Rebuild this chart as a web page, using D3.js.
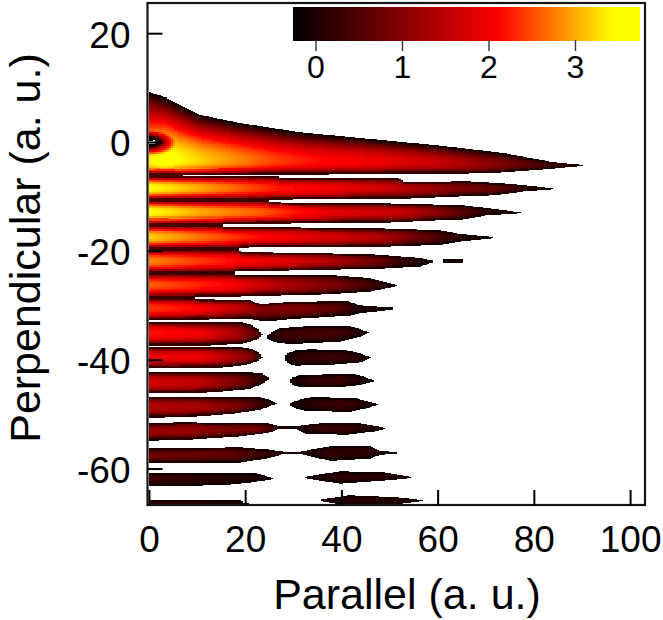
<!DOCTYPE html>
<html><head><meta charset="utf-8">
<script src="https://cdn.jsdelivr.net/npm/d3@7"></script>
<style>html,body{margin:0;padding:0;background:#fff}svg{display:block}text{font-family:"Liberation Sans",Arial,sans-serif;fill:#000}</style>
</head><body><svg id="c" width="663" height="620"></svg>
<script>
// Axis ticks and labels
const xTicks=[0,20,40,60,80,100];
const yTicks=[20,0,-20,-40,-60];
const colorTicks=[0,1,2,3];
const xTitle="Parallel (a. u.)";
const yTitle="Perpendicular (a. u.)";
// Colour map: value stops and colours
const colorStops=[-0.26,2.11,3.44,3.74];
const colorValues=["#000000","#ff0000","#ffff00","#ffff00"];

// Lobes: [parallel, perpendicular] outline points; peaks are [parallel, log value]
const b0Top=[[0,9.2],[3.3,8.3],[6.4,6.8],[10.6,5],[18.9,3.5],[31.4,1.8],[48,.4],[59.9,-.6],[73.6,-2],[84,-3.7],[90.2,-4.2]];
const b0Ridge=[[0,-3.3],[48,-3.4],[90.2,-4.25]];
const b0Bot=[[0,-6.1],[66,-5.7],[73.6,-5.5],[84,-4.8],[90.2,-4.3]];
const b0Peak=[[0,3.4],[3.3,3.6],[10.6,3.2],[18.9,2.8],[27.2,2.4],[35.6,2.15],[48,1.95],[59.9,1.6],[73.6,.9],[84,.3],[90.2,-.1]];
const b1Top=[[0,-6.3],[27,-6.3],[27.3,-6.6],[52,-6.6],[53,-7.4],[66,-7.2],[73.6,-7.6],[77.8,-7.9],[83.8,-8.5]];
const b1Ridge=[[0,-8.5],[83.8,-8.55]];
const b1Bot=[[0,-10.7],[25,-10.7],[25.2,-10.5],[54,-10.3],[64.7,-9.9],[72,-9.7],[77.8,-9],[83.8,-8.6]];
const b1Peak=[[0,3.5],[10.6,3],[18.9,2.6],[27.2,2.2],[37.6,2],[48,1.7],[54,1.4],[65.5,.9],[73,.6],[78,.2],[83.8,-.1]];
const b2Top=[[0,-10.7],[25,-10.7],[25.2,-11.1],[46,-11.2],[55,-11.4],[65,-11.6],[70,-12.1],[73.6,-12.5],[77,-12.9]];
const b2Ridge=[[0,-12.9],[77,-12.95]];
const b2Bot=[[0,-15.2],[15.3,-15.2],[15.5,-15],[50,-14.7],[60,-14.3],[65,-14.2],[70,-13.4],[77,-13]];
const b2Peak=[[0,3.5],[10.6,3],[23,2.6],[29,2.3],[37.6,1.9],[52,1.6],[60.5,1],[66.8,.4],[73,0],[77,-.1]];
const b3Top=[[0,-15.2],[15.3,-15.2],[15.5,-15.6],[46,-15.8],[53,-16],[60.5,-16.2],[64.7,-16.9],[71.3,-17.4]];
const b3Ridge=[[0,-17.5],[71.3,-17.5]];
const b3Bot=[[0,-19.7],[18.7,-19.7],[19,-19.3],[51,-19.1],[60.5,-18.8],[64.7,-18.2],[71.3,-17.6]];
const b3Peak=[[0,3.2],[10.6,2.7],[23,2.15],[35.6,1.8],[48,1.4],[54,.9],[60.5,.4],[66.8,0],[71.3,-.1]];
const b4Top=[[0,-19.7],[18.7,-19.7],[19,-20.2],[46,-20.6],[52,-21],[56.3,-21.3],[59,-21.8]];
const b4Ridge=[[0,-21.9],[59,-21.9]];
const b4Bot=[[0,-24],[17.5,-24],[18,-23.7],[48,-23.2],[56.3,-22.8],[59,-22]];
const b4Peak=[[0,2.8],[14.8,2.25],[29.3,1.8],[37.6,1.4],[48,.7],[52,.3],[59,-.1]];
const b4bTop=[[61.1,-21.5],[65,-21.5]];
const b4bRidge=[[61.1,-21.8],[65,-21.8]];
const b4bBot=[[61.1,-22.1],[65,-22.1]];
const b4bPeak=[[61.1,-.1],[63,.05],[65,-.1]];
const b5Top=[[0,-24],[17.5,-24],[18,-24.4],[37,-24.4],[46,-25],[51.4,-26.2]];
const b5Ridge=[[0,-26.3],[51.4,-26.3]];
const b5Bot=[[0,-28.6],[9.5,-28.6],[9.8,-28.3],[19,-28.3],[37,-27.9],[46,-27.4],[51.4,-26.4]];
const b5Peak=[[0,2.6],[16.8,2.1],[27.2,1.4],[39.7,.8],[48,.2],[51.4,-.1]];
const b6Top=[[0,-28.6],[9.5,-28.6],[9.8,-28.9],[21,-29],[23,-29.8],[29,-29.4],[41,-29.2],[43.9,-30],[50.5,-30.4]];
const b6Ridge=[[0,-30.5],[50.5,-30.55]];
const b6Bot=[[0,-32.7],[21,-32.4],[24,-32.9],[30.4,-32.4],[42,-31.8],[43.9,-31.4],[50.5,-30.7]];
const b6Peak=[[0,2.4],[10.6,2.1],[18.9,1.5],[24,.9],[31.4,.9],[39.7,.5],[43.9,0],[50.5,-.1]];
const b7Top=[[0,-33],[18.9,-33],[21,-33.5],[22.6,-34.3],[23.5,-35.3]];
const b7Ridge=[[0,-35.1],[23.5,-35.35]];
const b7Bot=[[0,-37.3],[12.7,-37.3],[19.9,-36.9],[22.4,-36.2],[23.5,-35.4]];
const b7Peak=[[0,2.2],[10.6,2],[18.9,1.25],[23.5,.3]];
const b7bTop=[[24.5,-35.7],[25.6,-34.9],[27.2,-34.2],[33.5,-33.8],[41.6,-33.8],[44,-34.4],[45.3,-34.9]];
const b7bRidge=[[24.5,-35.8],[30,-35.3],[45.3,-35]];
const b7bBot=[[24.5,-35.9],[25.6,-36.5],[27.2,-36.9],[30.4,-37],[39.7,-36.6],[43.9,-35.7],[45.3,-35.1]];
const b7bPeak=[[24.5,-.1],[28.1,.3],[37.6,.4],[41.6,.2],[45.3,-.1]];
const b8Top=[[0,-37.7],[18.9,-37.7],[21.5,-38],[22.7,-38.6],[23.3,-39.3]];
const b8Ridge=[[0,-39.5],[23.3,-39.5]];
const b8Bot=[[0,-41.5],[14.8,-41.4],[19.9,-40.9],[22.3,-40.3],[23.3,-39.7]];
const b8Peak=[[0,1.9],[10.6,2],[16.8,1.4],[21,1],[23.3,.1]];
const b8bTop=[[28.3,-39.5],[28.8,-38.8],[30.4,-38.3],[33,-38.1],[40.7,-38.2],[43.9,-38.8],[45.9,-39.5]];
const b8bRidge=[[28.3,-39.7],[45.9,-39.6]];
const b8bBot=[[28.3,-39.9],[28.8,-40.5],[30.4,-41],[38.6,-40.8],[43.9,-40.4],[45.9,-39.7]];
const b8bPeak=[[28.3,-.1],[31.4,.2],[37.6,.3],[41.6,.2],[45.9,-.1]];
const b9Top=[[0,-42.3],[20.8,-42.3],[23.5,-42.5],[24.7,-43.2]];
const b9Ridge=[[0,-44.2],[20,-44.2],[24.7,-43.4]];
const b9Bot=[[0,-46.1],[8.5,-46.1],[14.8,-45.8],[20.8,-45.3],[23.5,-44.4],[24.7,-43.6]];
const b9Peak=[[0,1.7],[10.6,1.5],[18.9,.85],[24.7,0]];
const b9bTop=[[29.3,-43.8],[30,-43.2],[31.4,-42.8],[42.8,-42.6],[44.9,-43.2],[46.6,-43.8]];
const b9bRidge=[[29.3,-43.9],[46.6,-43.9]];
const b9bBot=[[29.3,-44],[30,-44.6],[31.4,-45],[38.6,-45],[42.8,-44.7],[46.6,-44]];
const b9bPeak=[[29.3,-.1],[33.5,.2],[39.7,.3],[42.8,.1],[46.6,-.1]];
const b10Top=[[0,-46.9],[23,-46.9],[24.7,-47.2],[26.2,-47.9]];
const b10Ridge=[[0,-48.7],[20,-48.6],[26.2,-48]];
const b10Bot=[[0,-50.6],[9.4,-50.4],[17.7,-49.8],[23.1,-49.1],[26.2,-48.1]];
const b10Peak=[[0,1.4],[10.6,1.3],[18.9,.85],[23.1,.3],[26.2,-.1]];
const b10bTop=[[29.3,-48.1],[31,-47.4],[33.5,-46.9],[42.8,-47],[45.9,-47.8],[47.4,-48.1]];
const b10bRidge=[[29.3,-48.2],[47.4,-48.2]];
const b10bBot=[[29.3,-48.3],[30.6,-48.9],[32.4,-49.3],[41.6,-49.5],[44.9,-48.9],[47.4,-48.3]];
const b10bPeak=[[29.3,-.1],[33.5,.1],[39.7,.3],[42.8,.2],[47.4,-.1]];
const b11Top=[[0,-51.7],[6.4,-51.5],[25,-51.7],[27.2,-52.2],[30.4,-52.2],[32.4,-52],[35.5,-51.7],[43.7,-51.7],[46.8,-52.1],[48.9,-52.5]];
const b11Ridge=[[0,-53.1],[25,-52.8],[27.2,-52.4],[30.4,-52.4],[48.9,-52.6]];
const b11Bot=[[0,-54.8],[8.5,-54.6],[18.9,-54],[25,-53.3],[27.2,-52.6],[30.4,-52.6],[32.4,-53.5],[41,-53.7],[46.8,-53.1],[48.9,-52.7]];
const b11Peak=[[0,1.1],[6.4,1.2],[16.8,.9],[23,.8],[27.2,0],[30.4,-.1],[35.6,.3],[41.8,.2],[46.8,0],[48.9,-.1]];
const b12Top=[[0,-56.3],[18.9,-56.1],[25,-56.5],[28,-56.9],[31.4,-56.9],[37.6,-55.9],[46,-55.9],[48,-56.7],[51.4,-57]];
const b12Ridge=[[0,-57.6],[25,-57.4],[28,-57.05],[37,-57.1],[51.4,-57.1]];
const b12Bot=[[0,-58.8],[18.9,-58.8],[25,-58],[28,-57.2],[31.4,-57.2],[37.6,-58.5],[46,-58.1],[48,-57.4],[51.4,-57.2]];
const b12Peak=[[0,.75],[16.8,.65],[21,.4],[27.2,.1],[31.4,-.1],[37.6,.2],[46,.15],[48,0],[51.4,-.1]];
const b13Top=[[0,-60.8],[22,-60.8],[25.6,-61.7]];
const b13Ridge=[[0,-61.8],[25.6,-61.8]];
const b13Bot=[[0,-63.1],[14.8,-63],[20,-62.6],[24,-62.1],[25.6,-61.9]];
const b13Peak=[[0,.3],[10.6,.15],[18.9,.05],[25.6,-.1]];
const b13bTop=[[32.4,-61.5],[39.7,-60.5],[49,-60.7],[54.3,-61.5]];
const b13bRidge=[[32.4,-61.6],[54.3,-61.6]];
const b13bBot=[[32.4,-61.7],[39.7,-62.7],[49,-62.1],[54.3,-61.7]];
const b13bPeak=[[32.4,-.1],[39.7,.15],[49,.1],[54.3,-.1]];
const b14Top=[[0,-65.8],[18.9,-65.8],[20,-66.4],[27,-66.6]];
const b14Ridge=[[0,-66.6],[27,-66.7]];
const b14Bot=[[0,-67.5],[27,-67.5]];
const b14Peak=[[0,.2],[18.9,0],[27,-.2]];
const b14bTop=[[35.8,-65.7],[41.6,-64.9],[52,-65.3],[56.8,-65.8]];
const b14bRidge=[[35.8,-65.8],[56.8,-65.85]];
const b14bBot=[[35.8,-65.9],[41.6,-66.8],[52,-66.4],[56.8,-65.9]];
const b14bPeak=[[35.8,-.1],[41.6,.1],[52,.05],[56.8,-.1]];
// Dark dip at the origin: scaled radius against value
const dipRadius=[0,.5,.9,1.3,1.8,2.6];
const dipValue=[-.5,-.3,0,1.2,2.1,3.6];

const lobes=[
 [b0Top,b0Ridge,b0Bot,b0Peak,1.8,3],[b1Top,b1Ridge,b1Bot,b1Peak],[b2Top,b2Ridge,b2Bot,b2Peak],[b3Top,b3Ridge,b3Bot,b3Peak],
 [b4Top,b4Ridge,b4Bot,b4Peak],[b4bTop,b4bRidge,b4bBot,b4bPeak],[b5Top,b5Ridge,b5Bot,b5Peak],[b6Top,b6Ridge,b6Bot,b6Peak],
 [b7Top,b7Ridge,b7Bot,b7Peak],[b7bTop,b7bRidge,b7bBot,b7bPeak],[b8Top,b8Ridge,b8Bot,b8Peak],[b8bTop,b8bRidge,b8bBot,b8bPeak],
 [b9Top,b9Ridge,b9Bot,b9Peak],[b9bTop,b9bRidge,b9bBot,b9bPeak],[b10Top,b10Ridge,b10Bot,b10Peak],[b10bTop,b10bRidge,b10bBot,b10bPeak],
 [b11Top,b11Ridge,b11Bot,b11Peak],[b12Top,b12Ridge,b12Bot,b12Peak],[b13Top,b13Ridge,b13Bot,b13Peak],[b13bTop,b13bRidge,b13bBot,b13bPeak],
 [b14Top,b14Ridge,b14Bot,b14Peak],[b14bTop,b14bRidge,b14bBot,b14bPeak]
];

const svg=d3.select("#c");
const frame={l:147.5,r:645,t:3,b:505};
const x=d3.scaleLinear().domain([-.3,103.1]).range([frame.l,frame.r]);
const y=d3.scaleLinear().domain([25.55,-66.7]).range([frame.t,frame.b]);
const color=d3.scaleLinear().domain(colorStops).range(colorValues).clamp(true);
const line=pts=>d3.scaleLinear().domain(pts.map(p=>p[0])).range(pts.map(p=>p[1]));
const dip=d3.scaleLinear().domain(dipRadius).range(dipValue);

const defs=svg.append("defs");
defs.append("clipPath").attr("id","plot").append("rect").attr("x",frame.l).attr("y",frame.t).attr("width",frame.r-frame.l).attr("height",frame.b-frame.t);
defs.append("filter").attr("id","soft").attr("x","-2%").attr("y","-2%").attr("width","104%").attr("height","104%")
  .append("feGaussianBlur").attr("stdDeviation",.45);

// Build the cells of the picture from the lobes
const cells=[];
const stepX=2,stepY=2;
lobes.forEach(([t,r,b,p,pu=2.5,pd=2.5],idx)=>{
  const fT=line(t),fR=line(r),fB=line(b),fP=line(p);
  const x0=d3.min(t,d=>d[0]),x1=d3.max(t,d=>d[0]);
  for(let px=x(x0);px<x(x1);px+=stepX){
    const X=x.invert(px+stepX/2),top=fT(X),rid=Math.min(top,fR(X)),bot=Math.min(rid,fB(X)),peak=fP(X);
    [[top,rid,pu],[rid,bot,pd]].forEach(([ya,yb,pw],side)=>{
      const h=y(yb)-y(ya),n=Math.max(1,Math.round(h/stepY));
      for(let i=0;i<n;i++){
        const fa=i/n,fb=(i+1)/n,tc=side?(i+.5)/n:1-(i+.5)/n;
        const Yc=ya+(yb-ya)*(fa+fb)/2;
        let v=-.25+(peak+.25)*(1-Math.pow(tc,pw));
        if(idx===0){const rr=Math.hypot(X/2.4,Yc);if(rr<2.6)v=Math.min(v,dip(rr));}
        cells.push({x:px,y0:ya+(yb-ya)*fa,y1:ya+(yb-ya)*fb,v});
      }
    });
  }
});
svg.append("g").attr("clip-path","url(#plot)").append("g").attr("filter","url(#soft)")
 .selectAll("rect").data(cells.filter(d=>d.v>-.28)).join("rect")
 .attr("x",d=>d.x).attr("y",d=>y(d.y0)).attr("width",stepX+.3).attr("height",d=>y(d.y1)-y(d.y0)+.5)
 .attr("fill",d=>color(d.v)).attr("shape-rendering","crispEdges");

// Frame
svg.append("rect").attr("x",frame.l).attr("y",frame.t).attr("width",frame.r-frame.l).attr("height",frame.b-frame.t)
 .attr("fill","none").attr("stroke","#151515").attr("stroke-width",2.2);

// Axes with inward ticks
const FS=37;
const gx=svg.append("g").attr("transform",`translate(0,${frame.b})`).call(d3.axisBottom(x).tickValues(xTicks).tickSize(-15).tickPadding(31).tickFormat(d=>String(d)));
const gy=svg.append("g").attr("transform",`translate(${frame.l},0)`).call(d3.axisLeft(y).tickValues(yTicks).tickSize(-15).tickPadding(31).tickFormat(d=>String(d)));
[gx,gy].forEach(g=>{g.select(".domain").remove();g.selectAll("line").attr("stroke","#000").attr("stroke-width",2);
 g.selectAll("text").attr("font-size",FS).attr("font-family","Liberation Sans").attr("fill","#000");});
gy.selectAll("text").attr("x",-17).attr("y",2);
gx.selectAll("text").attr("y",21);

svg.append("text").attr("x",407).attr("y",609).attr("text-anchor","middle").attr("font-size",43).text(xTitle);
svg.append("text").attr("transform","translate(40,248) rotate(-90)").attr("text-anchor","middle").attr("font-size",43).text(yTitle);

// Colour bar
const cb=d3.scaleLinear().domain([-.26,3.74]).range([293,639]);
svg.append("g").selectAll("rect").data(d3.range(293,639).map(px=>cb.invert(px))).join("rect")
 .attr("x",d=>cb(d)).attr("y",7).attr("width",1.5).attr("height",34).attr("fill",d=>color(d)).attr("shape-rendering","crispEdges");
const gc=svg.append("g").attr("transform","translate(0,40)").call(d3.axisBottom(cb).tickValues(colorTicks).tickSize(11).tickPadding(4).tickFormat(d=>String(d)));
gc.select(".domain").remove();
gc.selectAll("line").attr("stroke","#333").attr("stroke-width",1.4);
gc.selectAll("text").attr("font-size",32).attr("font-family","Liberation Sans").attr("fill","#000");
</script></body></html>
